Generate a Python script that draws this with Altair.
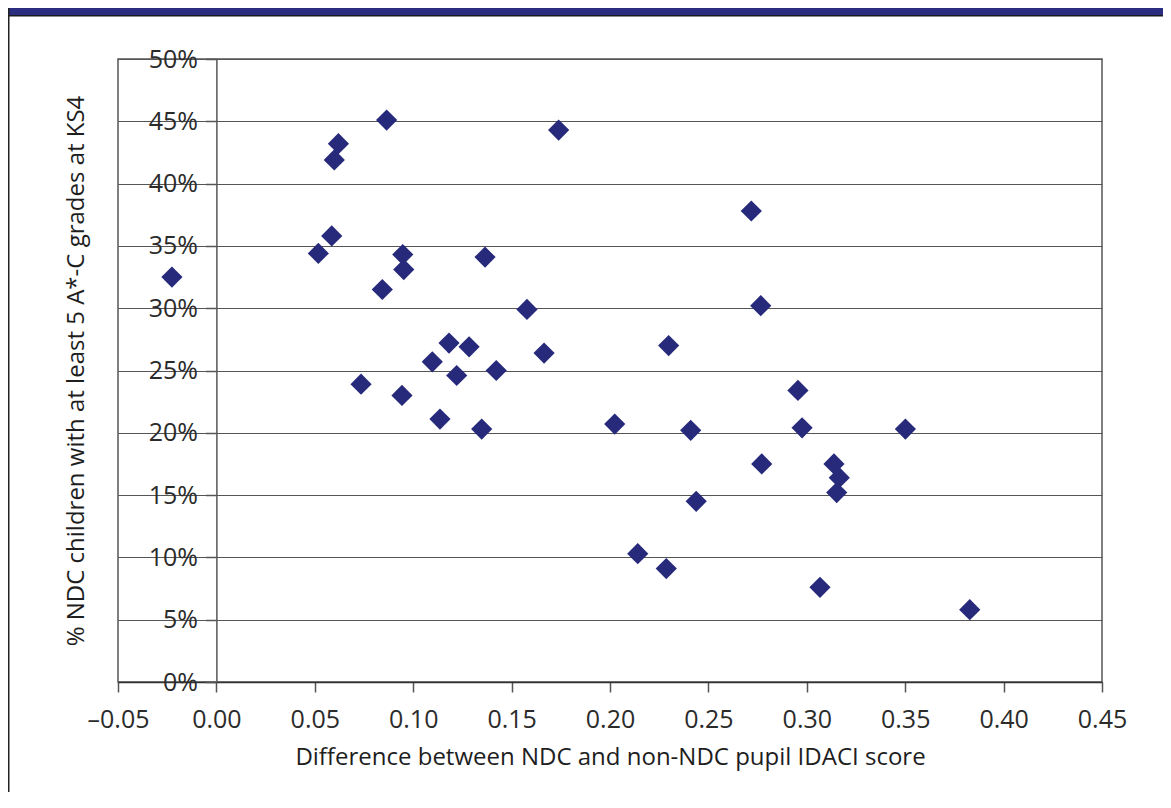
import altair as alt
import pandas as pd

# Difference between NDC and non-NDC pupil IDACI score
x_vals = [-0.0226, 0.0518, 0.0586, 0.0599, 0.0620, 0.0865, 0.1739, 0.0947, 0.0952, 0.0843,
          0.1365, 0.1578, 0.1182, 0.1284, 0.1665, 0.1097, 0.1221, 0.1422, 0.0735, 0.0943,
          0.1136, 0.1348, 0.2718, 0.2766, 0.2298, 0.2955, 0.2024, 0.2410, 0.2976, 0.3501,
          0.3138, 0.3165, 0.3152, 0.2771, 0.2438, 0.2141, 0.2286, 0.3067, 0.3828]
# % NDC children with at least 5 A*-C grades at KS4
y_vals = [32.5, 34.4, 35.8, 41.9, 43.2, 45.1, 44.3, 34.3, 33.1, 31.5,
          34.1, 29.9, 27.2, 26.9, 26.4, 25.7, 24.6, 25.0, 23.9, 23.0,
          21.1, 20.3, 37.8, 30.2, 27.0, 23.4, 20.7, 20.2, 20.4, 20.3,
          17.5, 16.4, 15.2, 17.5, 14.5, 10.3, 9.1, 7.6, 5.8]

x_ticks = [-0.05, 0.0, 0.05, 0.10, 0.15, 0.20, 0.25, 0.30, 0.35, 0.40, 0.45]
y_ticks = [0, 5, 10, 15, 20, 25, 30, 35, 40, 45, 50]

x_title = "Difference between NDC and non-NDC pupil IDACI score"
y_title = "% NDC children with at least 5 A*-C grades at KS4"

df = pd.DataFrame({"x": x_vals, "y": y_vals})

W, H = 984, 623
PAD_L, PAD_T, PAD_R, PAD_B = 110, 51, 61, 110
FONT = "Open Sans"
NAVY = "#272a7a"

points = alt.Chart(df).mark_point(
    shape="diamond", filled=True, size=450, opacity=1, color=NAVY
).encode(
    x=alt.X("x:Q",
            scale=alt.Scale(domain=[-0.05, 0.45], nice=False, zero=False),
            axis=alt.Axis(values=x_ticks, title=x_title, grid=False, labelFlush=False,
                          labelExpr="datum.value < 0 ? '\u2013' + format(-datum.value, '.2f') : format(datum.value, '.2f')",
                          tickSize=10, labelPadding=15, titlePadding=13,
                          domainColor="#333", tickColor="#555", domainWidth=1.5, tickWidth=1.5)),
    y=alt.Y("y:Q",
            scale=alt.Scale(domain=[0, 50], nice=False),
            axis=alt.Axis(values=y_ticks, title=y_title, grid=True, labelFlush=False,
                          labelExpr="datum.value + '%'",
                          offset=-98.4, tickSize=11, labelPadding=8, titlePadding=60,
                          domainColor="#555", tickColor="#555", domainWidth=1.5, tickWidth=1.5,
                          gridColor="#555", gridWidth=1.2)),
)

top_bar = alt.Chart(alt.Data(values=[{}])).mark_rect(color="#2a2d80").encode(
    x=alt.value(-PAD_L), x2=alt.value(W + PAD_R),
    y=alt.value(-PAD_T), y2=alt.value(-PAD_T + 7),
)
top_line = alt.Chart(alt.Data(values=[{}])).mark_rule(color="#1a1a1a", strokeWidth=1.5).encode(
    x=alt.value(-PAD_L), x2=alt.value(W + PAD_R),
    y=alt.value(-PAD_T + 7.75),
)
left_line = alt.Chart(alt.Data(values=[{}])).mark_rule(color="#222", strokeWidth=1.5).encode(
    x=alt.value(-PAD_L + 0.75),
    y=alt.value(-PAD_T), y2=alt.value(H + PAD_B),
)

chart = alt.layer(points, top_bar, top_line, left_line).properties(
    width=W, height=H,
    autosize=alt.AutoSizeParams(type="none"),
    padding={"left": PAD_L, "top": PAD_T, "right": PAD_R, "bottom": PAD_B},
    background="white",
).configure_view(
    stroke="#555", strokeWidth=1.5
).configure_axis(
    labelFont=FONT, titleFont=FONT, labelFontSize=25, titleFontSize=24,
    labelColor="#2b2b2b", titleColor="#1e1e1e", titleFontWeight="normal",
)

chart.save("out.html", embed_options={"renderer": "svg", "actions": False})
